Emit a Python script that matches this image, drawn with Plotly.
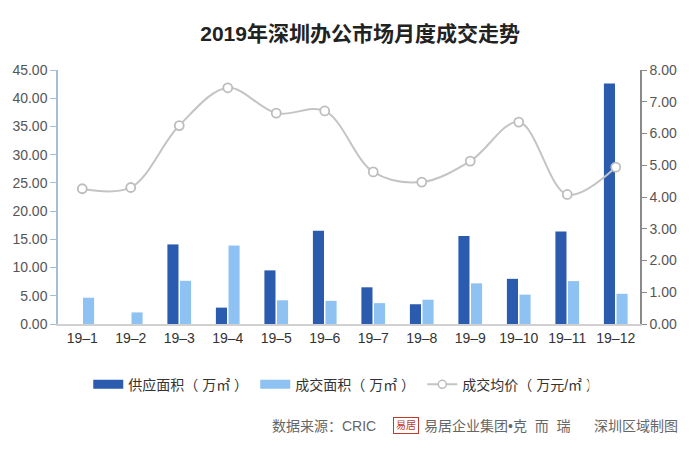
import plotly.graph_objects as go

months = ["19–1", "19–2", "19–3", "19–4", "19–5", "19–6",
          "19–7", "19–8", "19–9", "19–10", "19–11", "19–12"]
supply = [0, 0, 14.1, 2.9, 9.5, 16.5, 6.5, 3.5, 15.6, 8.0, 16.4, 42.6]
deal = [4.65, 2.05, 7.65, 13.9, 4.2, 4.1, 3.7, 4.3, 7.2, 5.2, 7.6, 5.35]
price = [4.26, 4.30, 6.25, 7.44, 6.64, 6.71, 4.79, 4.47, 5.13, 6.36, 4.08, 4.94]

names = ["供应面积（ 万㎡ ）", "成交面积（ 万㎡ ）", "成交均价（ 万元/㎡ ）"]
DARK = "#2B5BAE"
LIGHT = "#8DC2F3"
GREY = "#C4C4C4"
FONT = "Liberation Sans, Noto Sans CJK SC"

fig = go.Figure()
fig.add_trace(go.Bar(x=months, y=supply, name=names[0], showlegend=False,
                     marker=dict(color=DARK, line_width=0)))
fig.add_trace(go.Bar(x=months, y=deal, name=names[1], showlegend=False,
                     marker=dict(color=LIGHT, line_width=0)))
fig.add_trace(go.Scatter(x=months, y=price, name=names[2], yaxis="y2",
                         mode="lines+markers", showlegend=False,
                         line=dict(color=GREY, width=2, shape="spline", smoothing=1.0),
                         marker=dict(symbol="circle", size=9, color="white",
                                     line=dict(color="#BDBDBD", width=1.8))))

# legend-only entries (wide rectangles like the original legend)
fig.add_trace(go.Scatter(x=[None], y=[None], name=names[0], mode="lines",
                         line=dict(color=DARK, width=9)))
fig.add_trace(go.Scatter(x=[None], y=[None], name=names[1], mode="lines",
                         line=dict(color=LIGHT, width=9)))
fig.add_trace(go.Scatter(x=[None], y=[None], name=names[2], mode="lines+markers",
                         line=dict(color=GREY, width=2),
                         marker=dict(symbol="circle", size=8, color="white",
                                     line=dict(color="#BDBDBD", width=1.5))))

fig.update_layout(
    width=700, height=465,
    margin=dict(l=50, r=68, t=62, b=149),
    paper_bgcolor="white", plot_bgcolor="white",
    font=dict(family=FONT, color="#555555", size=14),
    title=dict(text="<b>2019年深圳办公市场月度成交走势</b>", x=0.503, xanchor="center",
               xref="container", y=1 - 26 / 465, yanchor="middle",
               font=dict(family=FONT, size=21, color="#222222")),
    barmode="group", bargap=0.48, bargroupgap=0.12,
    xaxis=dict(showgrid=False, showline=True, linecolor="#D0D0D0", linewidth=1.5,
               ticks="", tickfont=dict(size=14, color="#333333"), automargin=False,
               range=[-0.5, 11.5]),
    yaxis=dict(range=[0, 45], dtick=5, tickformat=".2f", showgrid=False,
               showline=True, linecolor="#A3BFD8", linewidth=1.5,
               ticks="outside", ticklen=6, tickcolor="#A3BFD8",
               tickfont=dict(size=14, color="#555555"), zeroline=False,
               automargin=False),
    yaxis2=dict(range=[0, 8], dtick=1, tickformat=".2f", overlaying="y", side="right",
                showgrid=False, showline=True, linecolor="#8A8A8A", linewidth=1.5,
                ticks="outside", ticklen=5, tickcolor="#8A8A8A",
                tickfont=dict(size=14, color="#555555"), zeroline=False,
                automargin=False),
    legend=dict(orientation="h", x=0.052, xanchor="left", y=-0.239, yanchor="middle",
                font=dict(size=14, color="#333333"), traceorder="normal",
                entrywidth=122, entrywidthmode="pixels", bgcolor="rgba(0,0,0,0)"),
)

src_y = -0.4
fig.add_annotation(text="数据来源：CRIC", xref="paper", yref="paper",
                   x=0.5498, y=src_y, xanchor="right", yanchor="middle", showarrow=False,
                   font=dict(size=14, color="#666666"))
fig.add_annotation(text="易居", xref="paper", yref="paper",
                   x=0.598, y=src_y, xanchor="center", yanchor="middle", showarrow=False,
                   font=dict(size=10, color="#C0392B"), bordercolor="#C0392B",
                   borderwidth=1, borderpad=2)
fig.add_annotation(text="易居企业集团•克\u00a0\u00a0而\u00a0\u00a0瑞", xref="paper", yref="paper",
                   x=0.6254, y=src_y, xanchor="left", yanchor="middle", showarrow=False,
                   font=dict(size=14, color="#666666"))
fig.add_annotation(text="深圳区域制图", xref="paper", yref="paper",
                   x=1.0687, y=src_y, xanchor="right", yanchor="middle", showarrow=False,
                   font=dict(size=14, color="#666666"))

fig.write_html("out.html")
